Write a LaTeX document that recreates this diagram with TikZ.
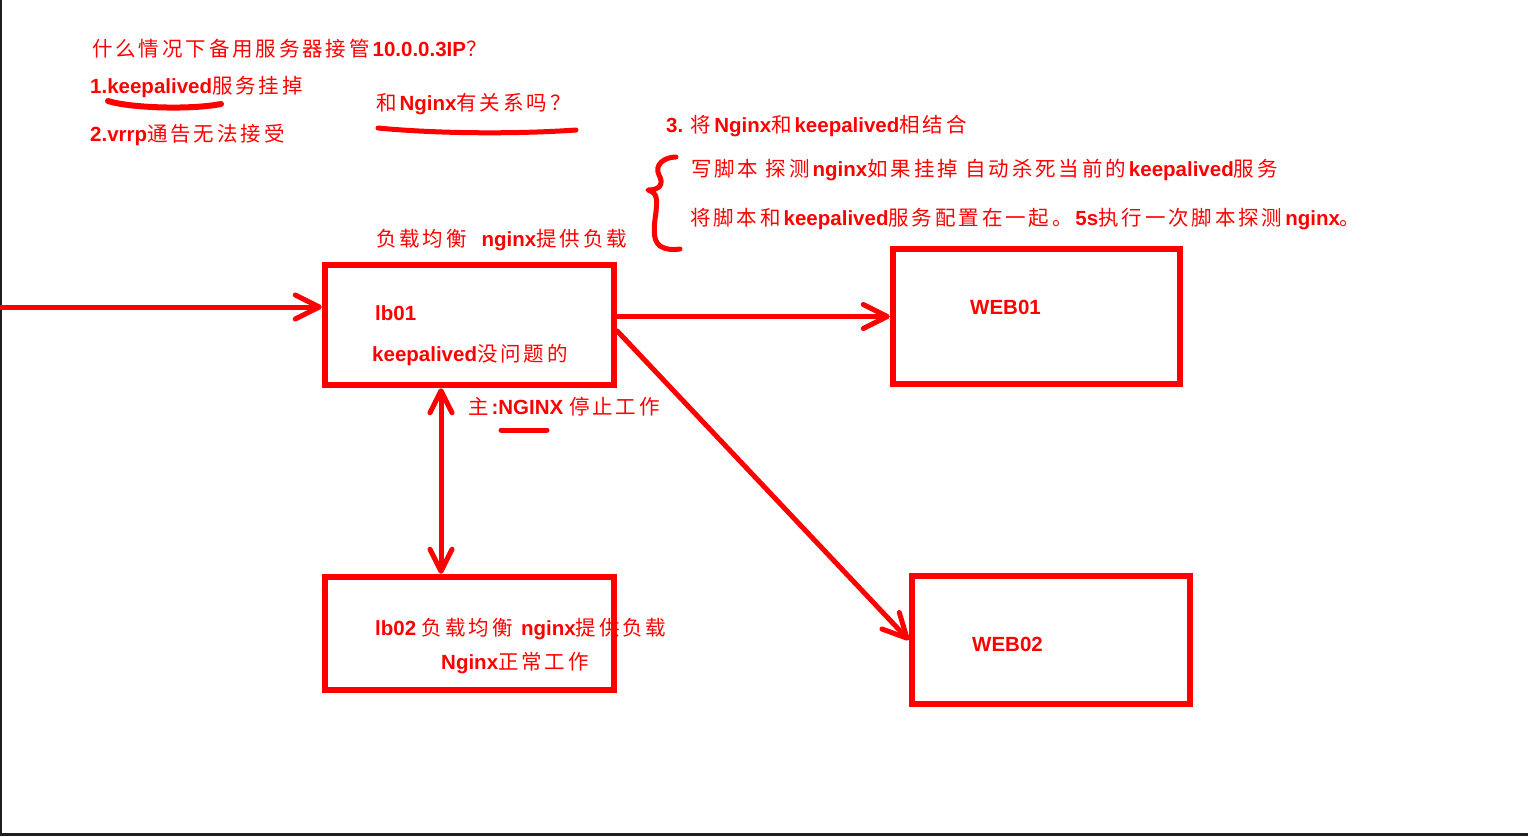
\documentclass[tikz,border=0pt]{standalone}
\usepackage{fontspec}
\setmainfont{Liberation Sans}
\newfontfamily\cjk[LetterSpace=14]{Noto Sans CJK SC}
\usetikzlibrary{arrows.meta}
\definecolor{pen}{HTML}{FF0000}
\definecolor{frame}{HTML}{1E1E1E}
\newcommand\zhtxt[1]{{\cjk #1}}
\newcommand\bt[1]{\textbf{#1}}
\tikzset{
  box/.style={draw=pen, line width=6.5pt, rectangle, inner sep=0pt},
  lbl/.style={text=pen, anchor=west, inner sep=0pt, font=\fontsize{20.5}{24}\selectfont},
  stroke/.style={draw=pen, line width=5pt, line cap=round, line join=round},
  arr/.style={stroke, -{Straight Barb[length=24pt,width=24pt,line cap=round,line join=round]}},
  arrboth/.style={stroke, {Straight Barb[length=22pt,width=22pt,line cap=round,line join=round]}-{Straight Barb[length=22pt,width=22pt,line cap=round,line join=round]}},
}
\begin{document}
\begin{tikzpicture}[x=1pt,y=-1pt]
\useasboundingbox (0,0) rectangle (1528,836);
\fill[white] (0,0) rectangle (1528,836);
\fill[frame] (0,0) rectangle (1.5,836);
\fill[frame] (0,833) rectangle (1528,836);

% boxes
\node[box, minimum width=289pt, minimum height=120pt] (lb01) at (469.5,325) {};
\node[box, minimum width=287pt, minimum height=135pt] (web01) at (1036.5,316.5) {};
\node[box, minimum width=278pt, minimum height=128pt] (web02) at (1051,640) {};
\node[box, minimum width=289pt, minimum height=113pt] (lb02) at (469.5,633.5) {};

% texts
\node[lbl] (t1) at (92,49) {\zhtxt{什么情况下备用服务器接管}\bt{10.0.0.3IP}\zhtxt{？}};
\node[lbl] (t2) at (90,87) {\bt{1.keepalived}\zhtxt{服务挂掉}};
\node[lbl] (t3) at (90,135) {\bt{2.vrrp}\zhtxt{通告无法接受}};
\node[lbl] (t4) at (376,104) {\zhtxt{和}\bt{Nginx}\zhtxt{有关系吗？}};
\node[lbl] (t5) at (666,126) {\bt{3. }\zhtxt{将}\bt{Nginx}\zhtxt{和}\bt{keepalived}\zhtxt{相结合}};
\node[lbl] (t6) at (691,170) {\zhtxt{写脚本 探测}\bt{nginx}\zhtxt{如果挂掉 自动杀死当前的}\bt{keepalived}\zhtxt{服务}};
\node[lbl] (t7) at (690,219) {\zhtxt{将脚本和}\bt{keepalived}\zhtxt{服务配置在一起。}\bt{5s}\zhtxt{执行一次脚本探测}\bt{nginx}\zhtxt{。}};
\node[lbl] (t8) at (376,240) {\zhtxt{负载均衡}\hspace{12pt}\bt{nginx}\zhtxt{提供负载}};
\node[lbl] (t9) at (375,313) {\bt{lb01}};
\node[lbl] (t10) at (372,355) {\bt{keepalived}\zhtxt{没问题的}};
\node[lbl] (t11) at (468,407) {\zhtxt{主}\bt{:NGINX} \zhtxt{停止工作}};
\node[lbl] (t12) at (375,629) {\bt{lb02} \zhtxt{负载均衡} \bt{nginx}\zhtxt{提供负载}};
\node[lbl] (t13) at (441,663) {\bt{Nginx}\zhtxt{正常工作}};
\node[lbl] (t14) at (970,307) {\bt{WEB01}};
\node[lbl] (t15) at (972,644) {\bt{WEB02}};

% connectors
\coordinate (in) at (0,307);
\coordinate (vx) at (441,0);
\draw[arr] (in) -- (in -| lb01.west);
\draw[arr] (lb01.east |- web01.west) -- (web01.west);
\draw[arr] ([yshift=-6pt]lb01.east) -- (web02.west);
\draw[arrboth] (lb01.south -| vx) -- (lb02.north -| vx);

% hand-drawn underlines
\coordinate (u1a) at (108,101);
\coordinate (u1b) at (221,104);
\draw[stroke, line width=6pt] (u1a) .. controls (130,108) and (190,110) .. (u1b);
\coordinate (u2a) at (378,128);
\coordinate (u2b) at (576,130);
\draw[stroke] (u2a) .. controls (440,134) and (520,134) .. (u2b);
\coordinate (u3a) at (501,430);
\coordinate (u3b) at (547,430);
\draw[stroke] (u3a) -- (u3b);

% brace
\coordinate (b1) at (676,157);
\coordinate (b2) at (680,249);
\draw[stroke] (b1) .. controls (664,157) and (654,165) .. (659,175)
  .. controls (664,184) and (660,190) .. (648,190)
  .. controls (658,193) and (657,200) .. (656,212)
  .. controls (654,226) and (652,240) .. (660,246)
  .. controls (666,250) and (674,250) .. (b2);
\end{tikzpicture}
\end{document}
